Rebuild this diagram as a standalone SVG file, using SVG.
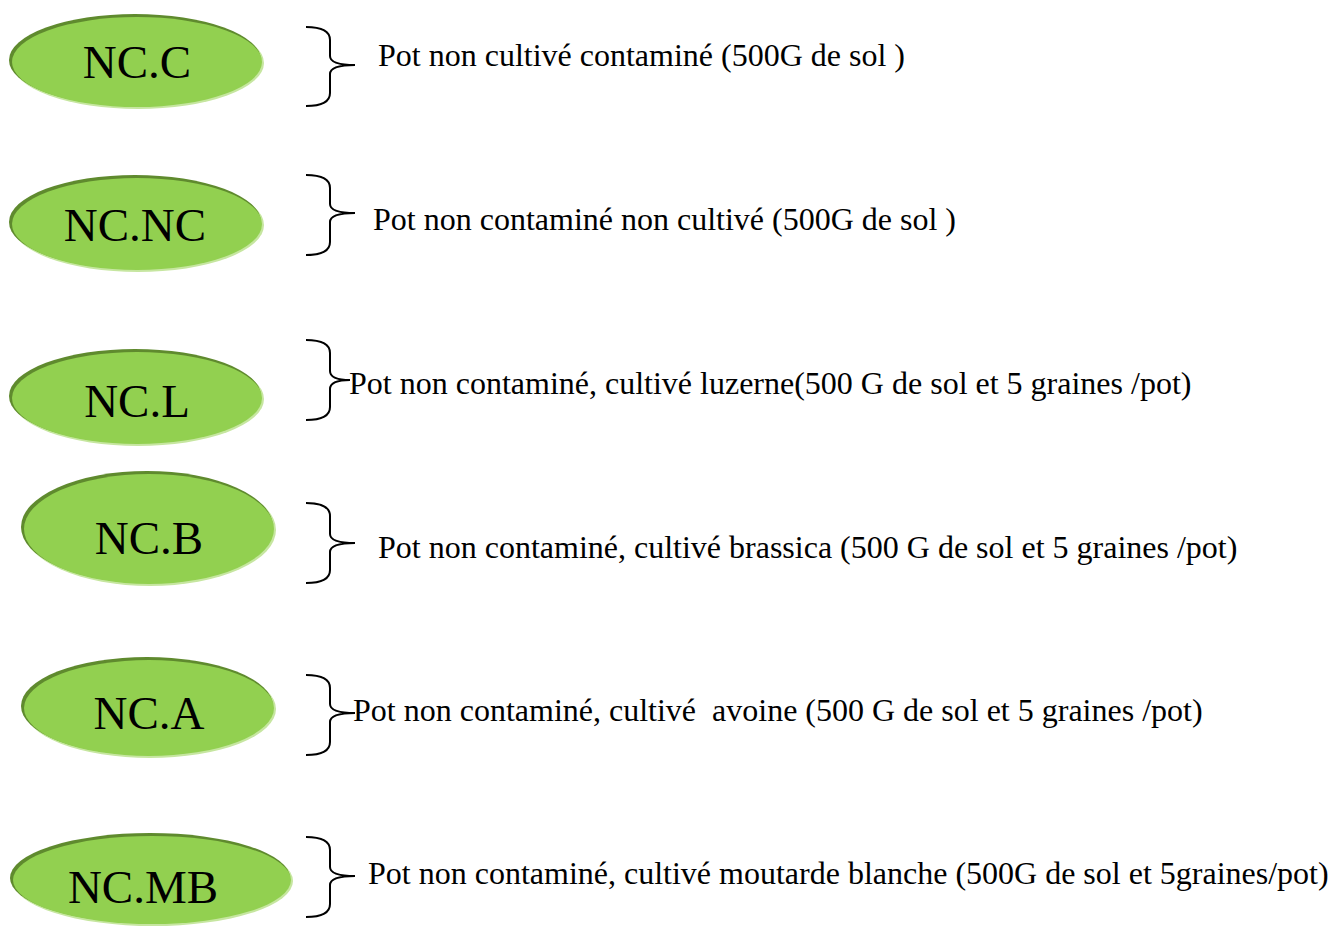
<svg xmlns="http://www.w3.org/2000/svg" width="1338" height="931" viewBox="0 0 1338 931">
<defs>
<style>
.sh{fill:#5f8a2e}
.hl{fill:#c6e6a0}
.el{fill:#92d050}
.lbl{font-family:"Liberation Serif","Times New Roman",serif;font-size:47px;fill:#000;text-anchor:middle}
.desc{font-family:"Liberation Serif","Times New Roman",serif;font-size:32px;fill:#000;white-space:pre}
.br{fill:none;stroke:#000;stroke-width:2}
</style>
</defs>
<rect width="1338" height="931" fill="#fff"/>
<g id="node-ncc">
<ellipse class="hl" cx="138" cy="63" rx="126" ry="46"/>
<ellipse class="sh" cx="135" cy="60" rx="126" ry="46"/>
<ellipse class="el" cx="137" cy="62" rx="125" ry="45"/>
<text class="lbl" x="137" y="78">NC.C</text>
</g>
<g id="node-ncnc">
<ellipse class="hl" cx="138" cy="225" rx="126" ry="47"/>
<ellipse class="sh" cx="135" cy="222" rx="126" ry="47"/>
<ellipse class="el" cx="137" cy="224" rx="125" ry="46"/>
<text class="lbl" x="135" y="241">NC.NC</text>
</g>
<g id="node-ncl">
<ellipse class="hl" cx="138" cy="399" rx="126" ry="47"/>
<ellipse class="sh" cx="135" cy="396" rx="126" ry="47"/>
<ellipse class="el" cx="137" cy="398" rx="125" ry="46"/>
<text class="lbl" x="137" y="417">NC.L</text>
</g>
<g id="node-ncb">
<ellipse class="hl" cx="150" cy="530" rx="126" ry="56"/>
<ellipse class="sh" cx="147" cy="527" rx="126" ry="56"/>
<ellipse class="el" cx="149" cy="529" rx="125" ry="55"/>
<text class="lbl" x="149" y="554">NC.B</text>
</g>
<g id="node-nca">
<ellipse class="hl" cx="150" cy="709" rx="126" ry="49"/>
<ellipse class="sh" cx="147" cy="706" rx="126" ry="49"/>
<ellipse class="el" cx="149" cy="708" rx="125" ry="48"/>
<text class="lbl" x="149" y="729">NC.A</text>
</g>
<g id="node-ncmb">
<ellipse class="hl" cx="153" cy="881" rx="140" ry="45"/>
<ellipse class="sh" cx="150" cy="878" rx="140" ry="45"/>
<ellipse class="el" cx="152" cy="880" rx="139" ry="44"/>
<text class="lbl" x="143" y="903">NC.MB</text>
</g>
<g id="connectors">
<path class="br" d="M306,27 Q330,27 330,40 L330,56 Q330,65 355,65 Q330,65 330,74 L330,93 Q330,106 306,106"/>
<path class="br" d="M306,175 Q330,175 330,188 L330,204 Q330,213 355,213 Q330,213 330,222 L330,242 Q330,255 306,255"/>
<path class="br" d="M306,340 Q330,340 330,353 L330,371 Q330,380 350,380 Q330,380 330,389 L330,407 Q330,420 306,420"/>
<path class="br" d="M306,503 Q330,503 330,516 L330,534 Q330,543 355,543 Q330,543 330,552 L330,570 Q330,583 306,583"/>
<path class="br" d="M306,675 Q330,675 330,688 L330,704 Q330,713 355,713 Q330,713 330,722 L330,742 Q330,755 306,755"/>
<path class="br" d="M306,837 Q330,837 330,850 L330,867 Q330,876 355,876 Q330,876 330,885 L330,904 Q330,917 306,917"/>
</g>
<g id="labels">
<text class="desc" x="378" y="66">Pot non cultivé contaminé (500G de sol )</text>
<text class="desc" x="373" y="230">Pot non contaminé non cultivé (500G de sol )</text>
<text class="desc" x="349" y="394">Pot non contaminé, cultivé luzerne(500 G de sol et 5 graines /pot)</text>
<text class="desc" x="378" y="558">Pot non contaminé, cultivé brassica (500 G de sol et 5 graines /pot)</text>
<text class="desc" x="353" y="721">Pot non contaminé, cultivé  avoine (500 G de sol et 5 graines /pot)</text>
<text class="desc" x="368" y="884">Pot non contaminé, cultivé moutarde blanche (500G de sol et 5graines/pot)</text>
</g>
</svg>
